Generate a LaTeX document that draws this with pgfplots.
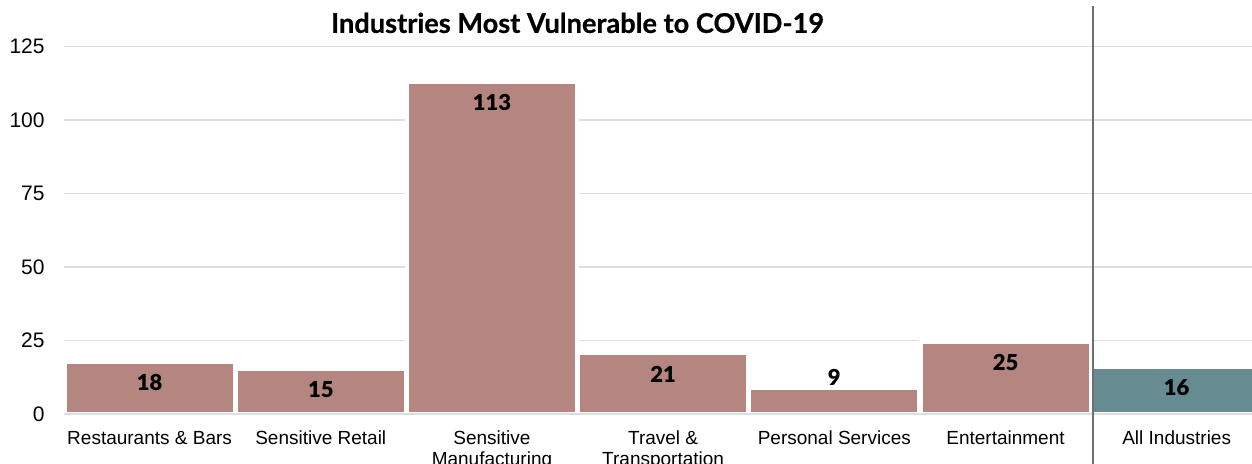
\documentclass[border=0pt]{standalone}
\usepackage{pgfplots}
\pgfplotsset{compat=1.18}
\usepackage{fontspec}
\setmainfont{Liberation Sans}
\newfontfamily\titlefont{Lato}[BoldFeatures={FakeBold=0.6}]
\newfontfamily\labelfont{Lato}[BoldFont={Lato Black}]
\definecolor{rose}{RGB}{181,134,128}
\definecolor{teal2}{RGB}{102,139,145}
\definecolor{gridc}{RGB}{222,222,222}
\definecolor{sepc}{RGB}{110,110,110}
\begin{document}
\begin{tikzpicture}
\begin{axis}[
  name=ax,
  scale only axis,
  width=594pt, height=183.65pt,
  xmin=-0.5, xmax=6.44,
  ymin=0, ymax=125,
  ytick={0,25,50,75,100,125},
  xtick={0,1,2,3,4,5,6},
  xticklabels={Restaurants \& Bars, Sensitive Retail, {Sensitive\\Manufacturing}, {Travel \&\\Transportation}, Personal Services, Entertainment, All Industries},
  ymajorgrids,
  grid style={gridc, line width=0.8pt},
  axis line style={draw=none},
  major tick style={draw=none},
  yticklabel style={font=\fontsize{10.5}{12}\selectfont, inner sep=0pt, anchor=east, xshift=-9.5pt},
  xticklabel style={font=\fontsize{9.5}{10.5}\selectfont, inner sep=0pt, anchor=north, align=center, yshift=-4pt},
  /pgf/number format/assume math mode=true,
  ybar, bar width=0.993, bar shift=0pt,
  clip=false,
  nodes near coords,
  point meta=y,
  nodes near coords style={font=\labelfont\bfseries\fontsize{11}{12}\selectfont, text=black, anchor=base, /pgf/number format/fixed, /pgf/number format/precision=0},
]
\addplot[fill=rose, draw=white, line width=2pt, nodes near coords style={yshift=-14.3pt}]
  coordinates {(0,17.6) (1,15.3) (2,112.9) (3,20.6) (5,24.6)};
\addplot[fill=rose, draw=white, line width=2pt, nodes near coords style={yshift=1.3pt}]
  coordinates {(4,8.7)};
\addplot[fill=teal2, draw=white, line width=2pt, nodes near coords style={yshift=-14.3pt}]
  coordinates {(6,16.0)};
\draw[gridc, line width=0.8pt] (axis cs:-0.5,0) -- (axis cs:6.44,0);
\draw[sepc, line width=0.75pt] (axis cs:5.51,-25) -- (axis cs:5.51,139);
\node[font=\titlefont\bfseries\fontsize{13.6}{15}\selectfont, anchor=base] at (axis cs:2.5,129.7) {Industries Most Vulnerable to COVID-19};
\end{axis}
\pgfresetboundingbox
\path[use as bounding box] ([xshift=-32pt,yshift=-25pt]ax.south west) rectangle ([yshift=207pt]ax.south east);
\end{tikzpicture}
\end{document}
